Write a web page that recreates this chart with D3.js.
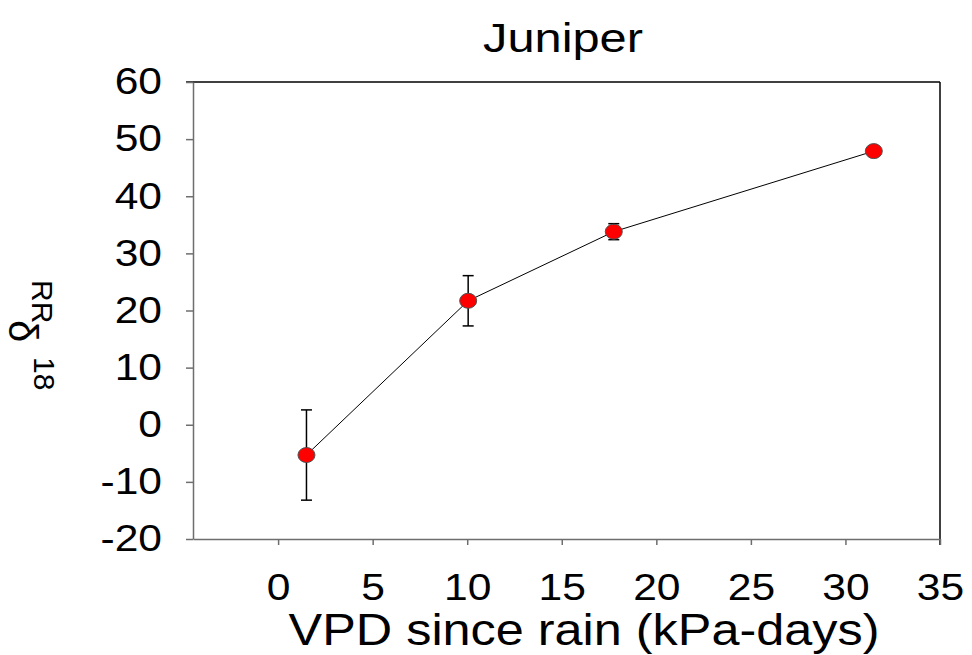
<!DOCTYPE html>
<html><head><meta charset="utf-8">
<script src="https://cdn.jsdelivr.net/npm/d3@7"></script>
<style>
body{margin:0;background:#fff}svg{display:block}
text{font-family:"Liberation Sans",Arial,sans-serif}
.ytl{transform-box:fill-box;transform-origin:right center;transform:scaleX(1.15)}
.xtl{transform-box:fill-box;transform-origin:center center;transform:scaleX(1.15)}
</style>
</head><body>
<svg id="c" width="972" height="655"></svg>
<script>
const vpd = [1.5, 10.05, 17.75, 31.5];
const d18o = [-5.3, 21.7, 33.8, 47.9];
const errs = [7.9, 4.4, 1.4, 0.7];
const xTicks = [0, 5, 10, 15, 20, 25, 30, 35];
const yTicks = [-20, -10, 0, 10, 20, 30, 40, 50, 60];
const title = "Juniper";
const xLabel = "VPD since rain (kPa-days)";

const svg = d3.select("#c");
const L = 193, R = 940, T = 82, B = 539;
const x = d3.scaleLinear().domain([-4.5, 35]).range([L, R]);
const y = d3.scaleLinear().domain([-20, 60]).range([B, T]);
const fmt = d => String(d).replace("\u2212", "-");

// frame top/right
svg.append("line").attr("x1", 186).attr("x2", R).attr("y1", T).attr("y2", T).attr("stroke", "#000").attr("stroke-width", 1.5);
svg.append("line").attr("x1", R).attr("x2", R).attr("y1", T).attr("y2", 545).attr("stroke", "#000").attr("stroke-width", 1.5);

const yAx = svg.append("g").attr("transform", `translate(${L},0)`)
  .call(d3.axisLeft(y).tickValues(yTicks).tickFormat(fmt).tickSize(7).tickSizeOuter(0).tickPadding(24));
const xAx = svg.append("g").attr("transform", `translate(0,${B})`)
  .call(d3.axisBottom(x).tickValues(xTicks).tickFormat(fmt).tickSize(6).tickSizeOuter(0).tickPadding(29));
[yAx, xAx].forEach(g => {
  g.select(".domain").attr("stroke", "#6e6e6e").attr("stroke-width", 1.5);
  g.selectAll(".tick line").attr("stroke", "#6e6e6e").attr("stroke-width", 1.5);
  g.selectAll("text").attr("fill", "#000").style("font-family", '"Liberation Sans",Arial,sans-serif').attr("font-size", 37);
});
yAx.selectAll("text").attr("class", "ytl");
xAx.selectAll("text").attr("class", "xtl").attr("dy", "0.71em");

// line
svg.append("path").datum(vpd.map((v, i) => [v, d18o[i]]))
  .attr("fill", "none").attr("stroke", "#000").attr("stroke-width", 1)
  .attr("d", d3.line().x(d => x(d[0])).y(d => y(d[1])));

// error bars
const eb = svg.append("g");
vpd.forEach((v, i) => {
  const cx = x(v), y1 = y(d18o[i] + errs[i]), y2 = y(d18o[i] - errs[i]);
  eb.append("line").attr("x1", cx).attr("x2", cx).attr("y1", y1).attr("y2", y2).attr("stroke", "#000").attr("stroke-width", 1.5);
  [y1, y2].forEach(yy => eb.append("line").attr("x1", cx - 5.5).attr("x2", cx + 5.5).attr("y1", yy).attr("y2", yy).attr("stroke", "#000").attr("stroke-width", 1.5));
});

// points
svg.append("g").selectAll("ellipse").data(vpd).join("ellipse")
  .attr("cx", d => x(d)).attr("cy", (d, i) => y(d18o[i]))
  .attr("rx", 8.5).attr("ry", 7.5)
  .attr("fill", "#ff0000").attr("stroke", "#505050").attr("stroke-width", 1);

// title
svg.append("text").attr("transform", "translate(563,52) scale(1.19,1)").attr("text-anchor", "middle").attr("font-size", 41).text(title);
// x label
svg.append("text").attr("transform", "translate(584,645) scale(1.12,1)").attr("text-anchor", "middle").attr("font-size", 45).text(xLabel);

// y label (garbled rotated label as in the reference)
svg.append("text").attr("transform", "translate(9,320) rotate(90)").attr("font-size", 40).text("δ");
svg.append("text").attr("transform", "translate(34,357) rotate(90)").attr("font-size", 30).text("18");
svg.append("text").attr("transform", "translate(32,280) rotate(90)").attr("font-size", 30).text("RR");
</script>
</body></html>
